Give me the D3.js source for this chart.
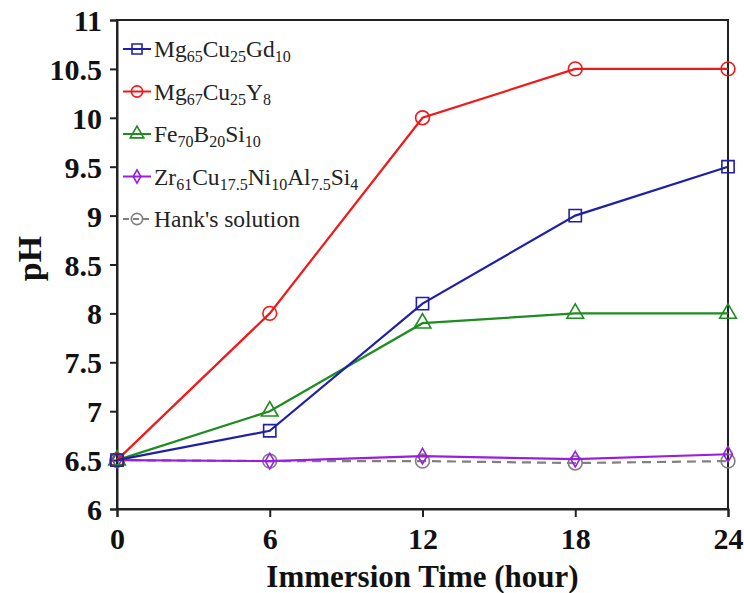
<!DOCTYPE html>
<html>
<head>
<meta charset="utf-8">
<script src="https://cdn.jsdelivr.net/npm/d3@7"></script>
<style>
  body { margin: 0; background: #fff; }
  svg { font-family: "Liberation Serif", "Times New Roman", serif; }
</style>
</head>
<body>
<div id="chart"></div>
<script>
// data
var hours = [0, 6, 12, 18, 24];
var mgGd = [6.5, 6.8, 8.1, 9.0, 9.5];
var mgY = [6.5, 8.0, 10.0, 10.5, 10.5];
var feBSi = [6.5, 7.0, 7.9, 8.0, 8.0];
var zrAlloy = [6.5, 6.49, 6.54, 6.51, 6.56];
var hanks = [6.5, 6.49, 6.49, 6.47, 6.49];
var yTicks = [6, 6.5, 7, 7.5, 8, 8.5, 9, 9.5, 10, 10.5, 11];

// legend labels as [text, subscript] pieces
var series = [
  { name: [["Mg", ""], ["65", "sub"], ["Cu", ""], ["25", "sub"], ["Gd", ""], ["10", "sub"]], values: mgGd, color: "#1f1fa8", marker: "square", dash: null },
  { name: [["Mg", ""], ["67", "sub"], ["Cu", ""], ["25", "sub"], ["Y", ""], ["8", "sub"]], values: mgY, color: "#f01818", marker: "circle", dash: null },
  { name: [["Fe", ""], ["70", "sub"], ["B", ""], ["20", "sub"], ["Si", ""], ["10", "sub"]], values: feBSi, color: "#1e8c1e", marker: "triangle", dash: null },
  { name: [["Zr", ""], ["61", "sub"], ["Cu", ""], ["17.5", "sub"], ["Ni", ""], ["10", "sub"], ["Al", ""], ["7.5", "sub"], ["Si", ""], ["4", "sub"]], values: zrAlloy, color: "#9a1ee0", marker: "diamond", dash: null },
  { name: [["Hank's solution", ""]], values: hanks, color: "#808080", marker: "circle", dash: "9,6" }
];

var svgWidth = 744;
var svgHeight = 593;
var margin = { top: 20, right: 16, bottom: 84, left: 117 };
var width = svgWidth - margin.left - margin.right;
var height = svgHeight - margin.top - margin.bottom;

var svg = d3.select("#chart")
  .append("svg")
    .attr("width", svgWidth)
    .attr("height", svgHeight)
  .append("g")
    .attr("transform", "translate(" + margin.left + "," + margin.top + ")");

var x = d3.scaleLinear().domain([0, 24]).range([0, width]);
var y = d3.scaleLinear().domain([6, 11]).range([height, 0]);

// frame
svg.append("rect")
  .attr("width", width)
  .attr("height", height)
  .attr("fill", "none")
  .attr("stroke", "#222")
  .attr("stroke-width", 2);

// axes
var xAxis = svg.append("g")
  .attr("transform", "translate(0," + height + ")")
  .call(d3.axisBottom(x).tickValues(hours).tickSize(8).tickPadding(6).tickFormat(d3.format("d")));
var yAxis = svg.append("g")
  .call(d3.axisLeft(y).tickValues(yTicks).tickSize(7).tickPadding(8).tickFormat(function(d) { return d; }));

[xAxis, yAxis].forEach(function(a) {
  a.select(".domain").attr("stroke", "#222").attr("stroke-width", 2);
  a.selectAll(".tick line").attr("stroke", "#222").attr("stroke-width", 2);
  a.selectAll(".tick text")
    .attr("fill", "#111")
    .style("font-family", "Liberation Serif")
    .style("font-size", "30px")
    .style("font-weight", "bold");
});
xAxis.selectAll(".tick text").attr("dy", "0.85em");
yAxis.selectAll(".tick text").attr("dy", "0.35em");

// axis titles
svg.append("text")
  .attr("x", width / 2)
  .attr("y", height + 78)
  .attr("text-anchor", "middle")
  .style("font-size", "31px")
  .style("font-weight", "bold")
  .attr("fill", "#111")
  .text("Immersion Time (hour)");

svg.append("text")
  .attr("transform", "translate(" + (-76) + "," + (height / 2 - 6) + ") rotate(-90)")
  .attr("text-anchor", "middle")
  .style("font-size", "34px")
  .style("font-weight", "bold")
  .attr("fill", "#111")
  .text("pH");

var symbolFor = {
  square: d3.symbol().type(d3.symbolSquare).size(150),
  circle: d3.symbol().type(d3.symbolCircle).size(150),
  triangle: d3.symbol().type(d3.symbolTriangle).size(120),
  diamond: d3.symbol().type(d3.symbolDiamond).size(70)
};
var legendSymbol = {
  square: d3.symbol().type(d3.symbolSquare).size(100),
  circle: d3.symbol().type(d3.symbolCircle).size(100),
  triangle: d3.symbol().type(d3.symbolTriangle).size(80),
  diamond: d3.symbol().type(d3.symbolDiamond).size(50)
};

var line = d3.line()
  .x(function(d, i) { return x(hours[i]); })
  .y(function(d) { return y(d); });

// draw back to front so Hank's sits beneath
series.slice().reverse().forEach(function(s) {
  var g = svg.append("g");
  g.append("path")
    .datum(s.values)
    .attr("d", line)
    .attr("fill", "none")
    .attr("stroke", s.color)
    .attr("stroke-width", 2.2)
    .attr("stroke-dasharray", s.dash);
  g.selectAll("path.pt")
    .data(s.values)
    .enter()
    .append("path")
      .attr("class", "pt")
      .attr("transform", function(d, i) { return "translate(" + x(hours[i]) + "," + y(d) + ")"; })
      .attr("d", symbolFor[s.marker])
      .attr("fill", "none")
      .attr("stroke", s.color)
      .attr("stroke-width", 1.6);
});

// legend
var legend = svg.append("g").attr("transform", "translate(6,29)");
series.forEach(function(s, i) {
  var row = legend.append("g").attr("transform", "translate(0," + (i * 42.5) + ")");
  row.append("line")
    .attr("x1", 0).attr("x2", 28)
    .attr("stroke", s.color)
    .attr("stroke-width", 2)
    .attr("stroke-dasharray", s.dash ? "6,4" : null);
  row.append("path")
    .attr("transform", "translate(14,0)")
    .attr("d", legendSymbol[s.marker])
    .attr("fill", "none")
    .attr("stroke", s.color)
    .attr("stroke-width", 1.6);
  var t = row.append("text")
    .attr("x", 31)
    .attr("y", 8)
    .attr("fill", "#222")
    .style("font-size", "23.5px");
  s.name.forEach(function(p) {
    var ts = t.append("tspan").text(p[0]);
    if (p[1] === "sub") {
      ts.style("font-size", "16px").attr("dy", 5);
    } else if (t.selectAll("tspan").size() > 1) {
      ts.attr("dy", -5);
    }
  });
});
</script>
</body>
</html>
